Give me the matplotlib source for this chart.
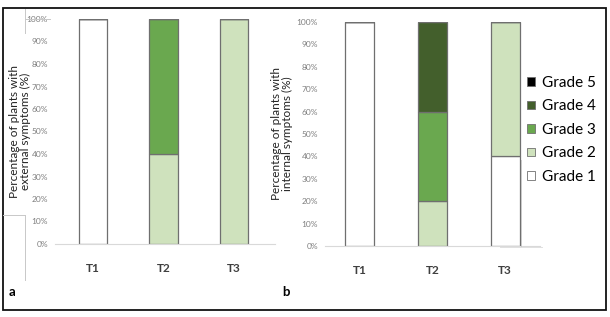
import matplotlib
matplotlib.use("Agg")
import matplotlib.pyplot as plt
from matplotlib.patches import Rectangle
from matplotlib.lines import Line2D
from matplotlib.ticker import PercentFormatter

plt.rcParams["font.family"] = ["Lato", "DejaVu Sans"]

treatments = ["T1", "T2", "T3"]
grades = ["Grade 1", "Grade 2", "Grade 3", "Grade 4", "Grade 5"]
colors = ["#ffffff", "#cfe2bd", "#6aa84f", "#435f2c", "#000000"]

# percentages per grade (rows) for T1, T2, T3
external = [
    [100, 0, 0],   # Grade 1
    [0, 40, 100],  # Grade 2
    [0, 60, 0],    # Grade 3
    [0, 0, 0],     # Grade 4
    [0, 0, 0],     # Grade 5
]
internal = [
    [100, 0, 40],  # Grade 1
    [0, 20, 60],   # Grade 2
    [0, 40, 0],    # Grade 3
    [0, 40, 0],    # Grade 4
    [0, 0, 0],     # Grade 5
]

W, H = 610, 317
fig = plt.figure(figsize=(W / 100, H / 100), dpi=100)

def px_axes(x0, x1, y_top, y_bot):
    return fig.add_axes([x0 / W, 1 - y_bot / H, (x1 - x0) / W, (y_bot - y_top) / H])

def draw(ax, data, xlim, ylabel, label_x):
    x = list(range(len(treatments)))
    bottom = [0] * len(treatments)
    for gi, (g, vals) in enumerate(zip(grades, data)):
        ax.bar(x, vals, 0.40, bottom=bottom, color=colors[gi], edgecolor="#6f6f6f",
               linewidth=0.9, label=g)
        bottom = [b + v for b, v in zip(bottom, vals)]
    ax.set_xlim(*xlim)
    ax.set_ylim(0, 100)
    ax.set_yticks(range(0, 101, 10))
    ax.yaxis.set_major_formatter(PercentFormatter(decimals=0))
    ax.set_xticks(x)
    ax.set_xticklabels(treatments, fontsize=8.5, fontweight="bold", color="#404040")
    ax.tick_params(axis="y", length=0, labelsize=6, labelcolor="#7f7f7f", pad=5)
    ax.tick_params(axis="x", length=0, pad=14)
    for s in ["left", "right", "top"]:
        ax.spines[s].set_visible(False)
    ax.spines["bottom"].set_color("#d9d9d9")
    ax.spines["bottom"].set_linewidth(0.8)
    ax.set_ylabel(ylabel, fontsize=8.5, color="#222222", linespacing=1.0)
    ax.yaxis.set_label_coords(label_x, 0.5)

ax1 = px_axes(55, 275, 19, 244)
draw(ax1, external, (-0.54, 2.58), "Percentage of plants with\nexternal symptoms (%)",
     (31 - 55) / 220)

ax2 = px_axes(325, 540, 22, 246)
draw(ax2, internal, (-0.48, 2.48), "Percentage of plants with\ninternal symptoms (%)",
     (293 - 325) / 215)

handles, labels = ax2.get_legend_handles_labels()
leg = fig.legend(handles[::-1], labels[::-1], loc="upper left",
                 bbox_to_anchor=(527 / W, 1 - 76 / H), frameon=False, fontsize=11,
                 handlelength=0.5, handleheight=0.5, handletextpad=0.45,
                 labelspacing=0.62, borderaxespad=0, borderpad=0)
for h in leg.legend_handles:
    h.set_edgecolor("#6f6f6f")
    h.set_linewidth(0.6)

fig.text(12 / W, 1 - 292 / H, "a", fontsize=9.5, fontweight="bold", va="center", ha="center")
fig.text(286 / W, 1 - 292 / H, "b", fontsize=9.5, fontweight="bold", va="center", ha="center")

# faint frame fragments visible in the original
def seg(xs, ys, c="#c8c8c8"):
    fig.lines.append(Line2D([v / W for v in xs], [1 - v / H for v in ys],
                            transform=fig.transFigure, color=c, linewidth=0.7))

seg([25, 50], [19, 19])
seg([25, 25], [9, 33])
seg([3, 25], [215, 215])
seg([25, 25], [215, 280])
seg([521, 521], [160, 247])
seg([500, 542], [247, 247], c="#e0e0e0")

fig.patches.append(Rectangle((3 / W, 1 - 310 / H), 603 / W, 302 / H, transform=fig.transFigure,
                             fill=False, edgecolor="#111111", linewidth=1.3))

fig.savefig("out.png", dpi=100)
